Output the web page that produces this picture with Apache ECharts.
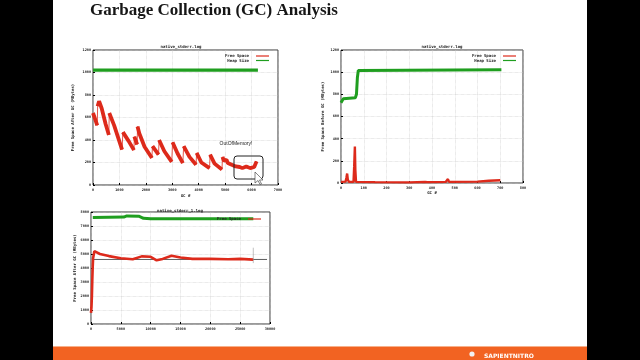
<!DOCTYPE html>
<html>
<head>
<meta charset="UTF-8">
<title>GC Analysis</title>
<script src="https://cdn.jsdelivr.net/npm/echarts@6/dist/echarts.min.js"></script>
<style>
  html, body { margin: 0; padding: 0; background: #000; }
  #main { width: 640px; height: 360px; }
</style>
</head>
<body>
<div id="main"></div>
<script type="text/javascript">
  // chart 1 : native_stderr.log, free space after GC (sawtooth, teeth split by null)
  var freeAfter1 = [
    [0, 640], [60, 600], [160, 530], null,
    [175, 700], [230, 745], [330, 680], [480, 540], [600, 445], null,
    [615, 640], [800, 530], [1100, 315], null,
    [1130, 470], [1350, 390], [1550, 310], null,
    [1565, 430], [1670, 360], null,
    [1685, 520], [1750, 460], [1950, 340], [2230, 240], null,
    [2250, 345], [2480, 270], null,
    [2500, 400], [2700, 300], [2980, 205], null,
    [3010, 380], [3200, 280], [3400, 195], null,
    [3430, 345], [3650, 250], [3900, 180], null,
    [3920, 285], [4100, 200], [4410, 150], null,
    [4430, 270], [4600, 190], [4880, 137], null,
    [4900, 250], [4950, 215], [5050, 225], [5100, 195], [5250, 180], [5400, 165],
    [5550, 160], [5650, 150], [5800, 165], [5950, 150], [6100, 160], [6150, 145], [6190, 210]
  ];
  var heap1 = [[0, 1022], [6240, 1022]];

  // chart 2 : free space before GC
  var freeBefore2 = [
    [0, 10], [20, 12], [24, 50], [27, 85], [30, 30], [35, 10], [55, 10], [58, 150], [61, 330],
    [63, 120], [66, 10], [150, 8], [300, 6], [370, 10], [375, 25], [380, 8], [460, 10],
    [465, 25], [470, 35], [475, 10], [600, 12], [650, 20], [700, 25]
  ];
  var heap2 = [
    [0, 725], [5, 740], [10, 760], [15, 770], [63, 770], [68, 800], [72, 950], [76, 1015],
    [80, 1022], [705, 1022]
  ];

  // chart 3 : native_stderr_1.log
  var freeAfter3 = [
    [0, 800], [80, 1200], [150, 2000], [220, 3200], [280, 4000], [350, 4700], [560, 5200],
    [1500, 5000], [3000, 4850], [5000, 4700], [7000, 4620], [8500, 4830], [10000, 4800],
    [11000, 4550], [12000, 4650], [13500, 4880], [15000, 4750], [17000, 4650], [20000, 4650],
    [23000, 4630], [25000, 4650], [27200, 4600]
  ];
  var heap3 = [
    [300, 7600], [5500, 7640], [6000, 7720], [8000, 7700], [8300, 7740], [8800, 7550],
    [10000, 7520], [27200, 7520]
  ];
  var mean3 = [[500, 4610], [29500, 4610]];
  var errBar3 = [[27200, 4350], [27200, 5450]];

  var RED = '#dd2a1b';
  var GREEN = '#1f9e1f';
  var MONO = 'DejaVu Sans Mono';

  function plain(v) { return String(v); }

  function xAx(idx, max, step, name, gap) {
    return {
      gridIndex: idx, type: 'value', min: 0, max: max, interval: step,
      name: name, nameLocation: 'middle', nameGap: gap,
      nameTextStyle: { fontSize: 4, fontFamily: MONO, fontWeight: 'bold', color: '#222' },
      axisLine: { show: false },
      axisTick: { inside: true, length: 2, lineStyle: { color: '#000' } },
      axisLabel: { fontSize: 3.5, fontFamily: MONO, fontWeight: 'bold', color: '#222', margin: 3, formatter: plain },
      splitLine: { lineStyle: { color: '#c8c8c8', type: 'dotted', width: 0.6 } }
    };
  }
  function yAx(idx, max, step, name, gap) {
    return {
      gridIndex: idx, type: 'value', min: 0, max: max, interval: step,
      name: name, nameLocation: 'middle', nameGap: gap, nameRotate: 90,
      nameTextStyle: { fontSize: 4, fontFamily: MONO, fontWeight: 'bold', color: '#222' },
      axisLine: { show: false },
      axisTick: { inside: true, length: 2, lineStyle: { color: '#000' } },
      axisLabel: { fontSize: 3.5, fontFamily: MONO, fontWeight: 'bold', color: '#222', margin: 2, formatter: plain },
      splitLine: { lineStyle: { color: '#c8c8c8', type: 'dotted', width: 0.6 } }
    };
  }
  function legendAt(right, top, items) {
    return {
      right: right, top: top, orient: 'vertical', align: 'right', itemGap: 0.5,
      itemWidth: 13, itemHeight: 1.2, icon: 'rect',
      textStyle: { fontSize: 4, fontFamily: MONO, fontWeight: 'bold', color: '#222', padding: [0, 2, 0, 0] },
      data: items
    };
  }
  function titleAt(x, y, text) {
    return {
      text: text, left: x, top: y, textAlign: 'center',
      textStyle: { fontSize: 4, fontFamily: MONO, fontWeight: 'bold', color: '#222' }
    };
  }
  function line(name, xi, data, color, width, z, connect) {
    return {
      name: name, type: 'line', xAxisIndex: xi, yAxisIndex: xi, data: data,
      showSymbol: false, animation: false, z: z || 2, connectNulls: !!connect,
      lineStyle: { color: color, width: width }, itemStyle: { color: color }
    };
  }

  var myChart = echarts.init(document.getElementById('main'));
  var option = {
    backgroundColor: '#000',
    animation: false,
    title: [
      {
        text: 'Garbage Collection (GC) Analysis', left: 85, top: -3,
        textStyle: { fontSize: 17, fontFamily: 'Liberation Serif', fontWeight: 'bold', color: '#161616' }
      },
      titleAt(176, 40, 'native_stderr.log'),
      titleAt(437, 40, 'native_stderr.log'),
      titleAt(175, 204, 'native_stderr_1.log')
    ],
    legend: [
      legendAt(366, 49, ['Free Space', 'Heap Size']),
      legendAt(119, 49, ['Free Space', 'Heap Size']),
      legendAt(374, 212, ['Free Space'])
    ],
    grid: [
      { left: 93, top: 50, width: 185, height: 135, show: true, borderColor: '#000', borderWidth: 0.8, backgroundColor: '#fff' },
      { left: 341, top: 50, width: 182, height: 133, show: true, borderColor: '#000', borderWidth: 0.8, backgroundColor: '#fff' },
      { left: 91, top: 212, width: 179, height: 112, show: true, borderColor: '#000', borderWidth: 0.8, backgroundColor: '#fff' }
    ],
    xAxis: [
      xAx(0, 7000, 1000, 'GC #', 9),
      xAx(1, 800, 100, 'GC #', 8),
      xAx(2, 30000, 5000, '', 8)
    ],
    yAxis: [
      yAx(0, 1200, 200, 'Free Space After GC (MBytes)', 18),
      yAx(1, 1200, 200, 'Free Space Before GC (MBytes)', 16),
      yAx(2, 8000, 1000, 'Free Space After GC (MBytes)', 14)
    ],
    series: [
      line('Free Space', 0, freeAfter1, RED, 3.8, 3),
      line('', 0, freeAfter1, RED, 0.8, 3, true),
      line('Heap Size', 0, heap1, GREEN, 3.2),
      line('Free Space', 1, freeBefore2, RED, 2.4, 3),
      line('Heap Size', 1, heap2, GREEN, 3),
      line('', 2, mean3, '#333', 0.8, 1),
      line('', 2, errBar3, '#999', 0.6, 4),
      line('Free Space', 2, freeAfter3, RED, 2.6, 3),
      line('Heap Size', 2, heap3, GREEN, 3)
    ],
    graphic: [
      { type: 'rect', z: -10, shape: { x: 53, y: 0, width: 534, height: 360 }, style: { fill: '#fff' } },
      { type: 'rect', z: -9, shape: { x: 53, y: 346, width: 534, height: 1 }, style: { fill: '#f7b08a' } },
      { type: 'rect', z: -9, shape: { x: 53, y: 347, width: 534, height: 13 }, style: { fill: '#f26322' } },
      { type: 'circle', z: 10, shape: { cx: 472, cy: 354, r: 2.6 }, style: { fill: '#f2f2f2' } },
      { type: 'text', z: 10, x: 484, y: 353, style: { text: 'SAPIENTNITRO', fill: '#fff', font: 'bold 6px "DejaVu Sans"' } },
      { type: 'text', z: 10, x: 236, y: 144, style: { text: 'OutOfMemory!', fill: '#222', font: '5px "Liberation Sans"', align: 'center', verticalAlign: 'middle' } },
      { type: 'rect', z: 10, shape: { x: 234, y: 156, width: 29, height: 23, r: 3 }, style: { fill: 'none', stroke: '#222', lineWidth: 1 } },
      { type: 'polygon', z: 11, shape: { points: [[255, 172], [255, 183], [258, 180.5], [260, 184.5], [261.5, 184], [259.5, 180], [263, 180]] }, style: { fill: '#fff', stroke: '#333', lineWidth: 0.6 } }
    ]
  };
  myChart.setOption(option);
</script>
</body>
</html>
